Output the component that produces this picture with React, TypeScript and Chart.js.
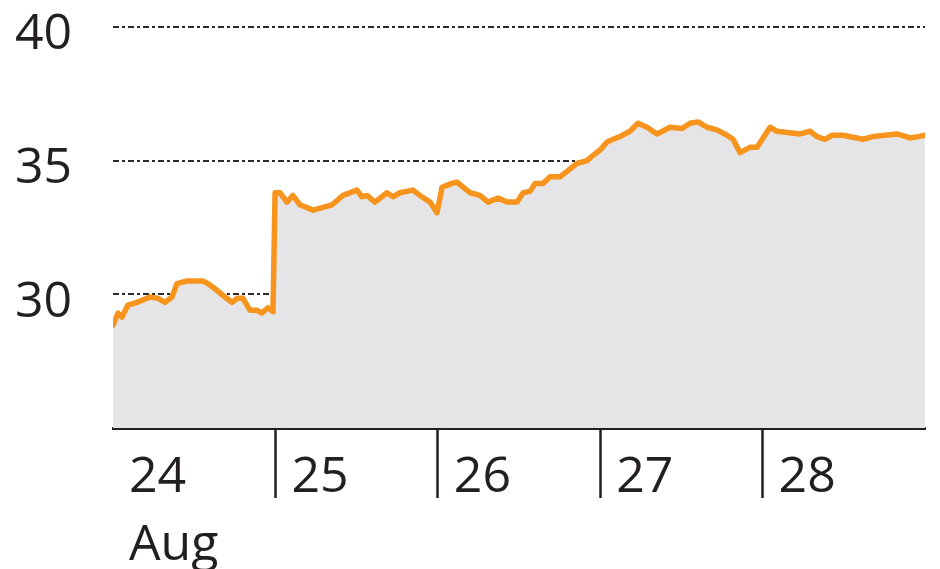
import React, { useEffect, useRef } from 'react';
import { Chart, registerables } from 'chart.js';

Chart.register(...registerables);

// x position in days since 24 Aug (0 = start of 24 Aug)
const dayPositions = [
  0.0, 0.031, 0.055, 0.092, 0.148, 0.228, 0.277, 0.32, 0.363, 0.394, 0.456, 0.554, 0.585, 0.64, 0.69, 0.733,
  0.764, 0.8, 0.844, 0.887, 0.917, 0.954, 0.985, 0.998, 1.028, 1.071, 1.108, 1.151, 1.232, 1.293, 1.349, 1.416,
  1.502, 1.533, 1.564, 1.613, 1.687, 1.724, 1.767, 1.847, 1.89, 1.952, 1.995, 2.026, 2.087, 2.118, 2.198, 2.26,
  2.309, 2.371, 2.426, 2.488, 2.525, 2.568, 2.599, 2.648, 2.691, 2.752, 2.796, 2.857, 2.919, 2.956, 2.999, 3.042,
  3.079, 3.122, 3.183, 3.233, 3.288, 3.35, 3.43, 3.504, 3.553, 3.602, 3.658, 3.719, 3.781, 3.818, 3.861, 3.922,
  3.966, 4.046, 4.089, 4.23, 4.292, 4.335, 4.384, 4.427, 4.495, 4.618, 4.68, 4.828, 4.908, 4.957, 5.0,
];

const prices = [
  28.85, 29.3, 29.15, 29.6, 29.7, 29.9, 29.85, 29.7, 29.9, 30.4, 30.5, 30.5, 30.4, 30.15, 29.9, 29.7,
  29.85, 29.85, 29.4, 29.4, 29.3, 29.5, 29.35, 33.8, 33.8, 33.45, 33.7, 33.35, 33.15, 33.25, 33.35, 33.7,
  33.9, 33.65, 33.7, 33.45, 33.8, 33.65, 33.8, 33.9, 33.7, 33.45, 33.05, 34.0, 34.15, 34.2, 33.8, 33.7,
  33.45, 33.6, 33.45, 33.45, 33.8, 33.85, 34.15, 34.15, 34.4, 34.4, 34.6, 34.9, 35.0, 35.2, 35.4, 35.7,
  35.8, 35.9, 36.1, 36.4, 36.25, 36.0, 36.25, 36.2, 36.4, 36.45, 36.25, 36.15, 35.95, 35.8, 35.3, 35.5,
  35.5, 36.25, 36.1, 36.0, 36.1, 35.9, 35.8, 35.95, 35.95, 35.8, 35.9, 36.0, 35.85, 35.9, 35.95,
];

const dayLabels = ['24', '25', '26', '27', '28'];
const monthLabel = 'Aug';
const yTickValues = [30, 35, 40];

const TEXT = '#231f20';
const FONT = '"Open Sans", "Noto Sans", sans-serif';

export default function App() {
  const ref = useRef<HTMLCanvasElement>(null);

  useEffect(() => {
    document.body.style.margin = '0';
    const canvas = ref.current;
    if (!canvas) return;
    const chart = new Chart(canvas, {
      type: 'line',
      data: {
        datasets: [
          {
            data: dayPositions.map((x, i) => ({ x, y: prices[i] })),
            borderColor: '#f7941d',
            borderWidth: 5.5,
            backgroundColor: '#e5e5e8',
            fill: 'start',
            pointRadius: 0,
            tension: 0,
            borderJoinStyle: 'round',
            borderCapStyle: 'round',
          },
        ],
      },
      options: {
        animation: false,
        responsive: true,
        maintainAspectRatio: false,
        layout: { padding: { left: 15, right: 15, top: 27, bottom: 0 } },
        plugins: { legend: { display: false }, tooltip: { enabled: false } },
        scales: {
          x: {
            type: 'linear',
            min: 0,
            max: 5,
            afterBuildTicks: (s: any) => {
              s.ticks = dayLabels.map((_, i) => ({ value: i }));
            },
            afterFit: (s: any) => {
              s.height = 141;
            },
            grid: {
              drawOnChartArea: false,
              drawTicks: true,
              tickLength: 70,
              tickWidth: 2.5,
              tickColor: (c: any) => (c.index === 0 ? 'rgba(0,0,0,0)' : TEXT),
            },
            border: { display: true, color: TEXT, width: 3 },
            ticks: {
              align: 'start',
              labelOffset: 16,
              padding: -54,
              maxRotation: 0,
              autoSkip: false,
              color: TEXT,
              font: { family: FONT, size: 50, lineHeight: 1.35 },
              callback: (v: any) => (v === 0 ? [dayLabels[0], monthLabel] : dayLabels[v]),
            },
          },
          y: {
            min: 25,
            max: 40,
            afterBuildTicks: (s: any) => {
              s.ticks = yTickValues.map((v) => ({ value: v }));
            },
            afterFit: (s: any) => {
              s.width = 98;
            },
            grid: { color: '#2a2a2a', lineWidth: 2, drawTicks: false },
            border: { display: false, dash: [6, 3, 3, 3] },
            ticks: {
              crossAlign: 'far',
              padding: 0,
              labelOffset: 8,
              color: TEXT,
              font: { family: FONT, size: 50, lineHeight: 1 },
              callback: (v: any) => String(v),
            },
          },
        },
      },
    } as any);
    return () => chart.destroy();
  }, []);

  return (
    <div style={{ width: 940, height: 569, position: 'relative' }}>
      <canvas ref={ref} />
    </div>
  );
}
